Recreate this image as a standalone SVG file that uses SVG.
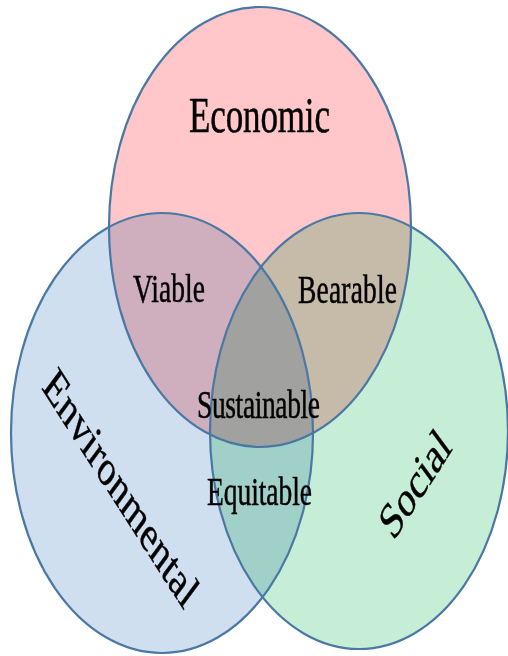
<svg xmlns="http://www.w3.org/2000/svg" xmlns:xlink="http://www.w3.org/1999/xlink" width="508" height="656" viewBox="0 0 508 656">
  <style>
    .fill { mix-blend-mode: multiply; stroke: none; }
    .outline { fill: none; stroke: #4A78A4; stroke-width: 2.2; }
    .lbl { font-family: "Liberation Serif", "Times New Roman", serif; fill: #000; stroke: #000; stroke-width: 0.35; text-anchor: middle; }
    .big { font-size: 35px; }
    .small { font-size: 27.5px; }
  </style>
  <defs>
    <ellipse id="e-econ" cx="260" cy="227" rx="151" ry="220"/>
    <ellipse id="e-env" cx="162" cy="433" rx="151" ry="220"/>
    <ellipse id="e-soc" cx="359" cy="431" rx="149" ry="218"/>
  </defs>
  <rect x="0" y="0" width="508" height="656" fill="#FFFFFF"/>

  <g id="economic">
    <use xlink:href="#e-econ" class="fill" fill="#FFC7CA"/>
    <text class="lbl big" transform="translate(259.5,132) scale(1,1.45)" x="0" y="0" textLength="141">Economic</text>
  </g>
  <g id="environmental">
    <use xlink:href="#e-env" class="fill" fill="#CFDFF0"/>
    <text class="lbl big" transform="translate(121,488) scale(1,1.45) rotate(47)" x="0" y="11.5" textLength="210">Environmental</text>
  </g>
  <g id="social">
    <use xlink:href="#e-soc" class="fill" fill="#C6EED6"/>
    <text class="lbl big" transform="translate(415,484) scale(1,1.45) rotate(-47)" x="0" y="11.5">Social</text>
  </g>

  <g id="connectors">
    <use xlink:href="#e-econ" class="outline"/>
    <use xlink:href="#e-env" class="outline"/>
    <use xlink:href="#e-soc" class="outline"/>
  </g>

  <g id="overlap-labels">
    <text class="lbl small" transform="translate(169,302) scale(1,1.45)" x="0" y="0" textLength="72">Viable</text>
    <text class="lbl small" transform="translate(347.5,303) scale(1,1.45)" x="0" y="0" textLength="99">Bearable</text>
    <text class="lbl small" transform="translate(258.5,418) scale(1,1.45)" x="0" y="0" textLength="123">Sustainable</text>
    <text class="lbl small" transform="translate(259.5,505) scale(1,1.45)" x="0" y="0" textLength="105">Equitable</text>
  </g>
</svg>
